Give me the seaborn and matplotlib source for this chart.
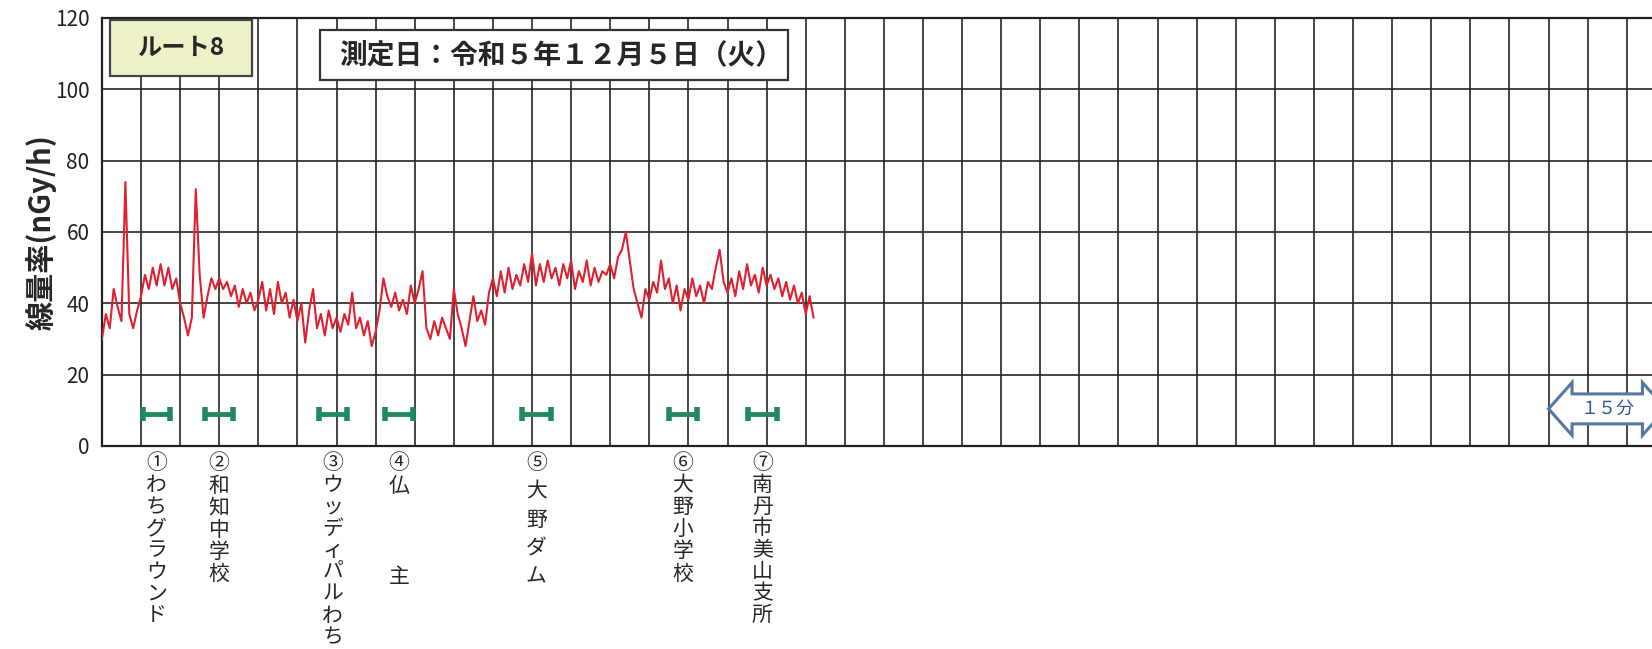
import matplotlib
matplotlib.use("Agg")
import matplotlib.pyplot as plt
import seaborn as sns
import pandas as pd
import numpy as np
from matplotlib.patches import Rectangle, Polygon

# 空間線量率 (nGy/h)、0.5分ごとに図から読み取った値
step_min = 0.5
dose_rate = [
    30,
    37, 33, 44, 39, 35, 74, 37, 33, 38, 42,
    48, 44, 50, 45, 51, 45, 50, 44, 47, 40,
    36, 31, 36, 72, 48, 36, 42, 47, 44, 47,
    44, 46, 42, 45, 39, 44, 40, 43, 38, 41,
    46, 38, 44, 37, 46, 40, 43, 36, 41, 35,
    40, 29, 38, 44, 33, 37, 31, 38, 33, 36,
    32, 37, 34, 43, 33, 36, 31, 35, 28, 32,
    38, 47, 42, 39, 43, 38, 41, 37, 45, 40,
    44, 49, 33, 30, 35, 31, 36, 33, 30, 44,
    37, 33, 28, 35, 42, 35, 38, 34, 43, 47,
    42, 49, 43, 50, 44, 48, 45, 51, 46, 54,
    45, 51, 46, 52, 47, 50, 45, 51, 47, 52,
    44, 49, 46, 52, 45, 50, 46, 49, 48, 51,
    47, 53, 55, 60, 52, 44, 40, 36, 44, 41,
    46, 43, 52, 44, 47, 40, 45, 38, 44, 41,
    47, 42, 45, 40, 46, 44, 50, 55, 46, 43,
    47, 42, 49, 44, 51, 45, 48, 43, 50, 45,
    48, 44, 47, 42, 46, 41, 45, 40, 43, 37,
    42, 36,
]

# 測定地点 (緑のバー: 開始分・終了分)
site_numbers = ["①", "②", "③", "④", "⑤", "⑥", "⑦"]
site_names = ["わちグラウンド", "和知中学校", "ウッディパルわち", "仏　　　主",
              "大野ダム", "大野小学校", "南丹市美山支所"]
site_start = [5.2, 13.2, 27.7, 36.2, 53.7, 72.5, 82.6]
site_end = [8.7, 16.8, 31.3, 39.8, 57.4, 76.1, 86.3]
site_level = 9

y_ticks = [0, 20, 40, 60, 80, 100, 120]
route_label = "ルート8"
date_label = "測定日：令和５年１２月５日（火）"
scale_label = "１５分"
scale_start, scale_len = 185, 15

df = pd.DataFrame({"minute": np.arange(len(dose_rate)) * step_min,
                   "dose": dose_rate})

sns.set_style("white")
plt.rcParams["font.family"] = ["Noto Sans CJK JP", "DejaVu Sans"]

fig = plt.figure(figsize=(16.52, 6.49), dpi=100)
ax = fig.add_axes([0.0617, 0.3128, 0.9467, 0.6595])

sns.lineplot(data=df, x="minute", y="dose", ax=ax, color="#e0202e",
             linewidth=1.5, zorder=3)

ax.set_xlim(0, 200)
ax.set_ylim(0, 120)
ax.set_xticks(np.arange(0, 201, 5))
ax.set_yticks(y_ticks)
ax.grid(True, color="#262626", linewidth=1.2)
ax.tick_params(axis="x", length=0, labelbottom=False)
ax.tick_params(axis="y", length=0, pad=9, labelsize=15, labelcolor="#222222")
for s in ax.spines.values():
    s.set_color("#222222")
    s.set_linewidth(1.6)
ax.set_xlabel("")
ax.set_ylabel("線量率(nGy/h)", fontsize=21, fontweight="bold", labelpad=-1)

# 測定地点のバー
centers = [(a + b) / 2 for a, b in zip(site_start, site_end)]
halfw = [(b - a) / 2 for a, b in zip(site_start, site_end)]
ax.errorbar(centers, [site_level] * len(centers), xerr=halfw, fmt="none",
            ecolor="#1e8a5e", elinewidth=3.5, capsize=5, capthick=4, zorder=4)

# 地点名 (縦書き)
spacing = [0.98, 1.007, 0.985, 1.04, 1.37, 1.0, 0.98]
xtr = ax.get_xaxis_transform()
for c, num, name, ls in zip(centers, site_numbers, site_names, spacing):
    chars = [ch if ch != "　" else "" for ch in name]
    ax.text(c, -0.015, "\n".join([num] + chars), transform=xtr, ha="center",
            va="top", fontsize=15, linespacing=ls, clip_on=False)

# ルート・日付の枠
ax.add_patch(Rectangle((0.0052, 0.865), 0.0905, 0.13, transform=ax.transAxes,
                       facecolor="#eef1c6", edgecolor="#444444", lw=1.6, zorder=5))
ax.text(0.0506, 0.93, route_label, transform=ax.transAxes, ha="center",
        va="center", fontsize=17.5, fontweight="bold", zorder=6)
ax.add_patch(Rectangle((0.1394, 0.855), 0.2992, 0.117, transform=ax.transAxes,
                       facecolor="white", edgecolor="#333333", lw=1.6, zorder=5))
ax.text(0.294, 0.913, date_label, transform=ax.transAxes, ha="center",
        va="center", fontsize=20, fontweight="bold", zorder=6)

# 15分スケール矢印
yc, hh, sh, hl = 10.4, 7.4, 4.2, 3.0
x0, x1 = scale_start, scale_start + scale_len
arrow = [(x0, yc), (x0 + hl, yc + hh), (x0 + hl, yc + sh), (x1 - hl, yc + sh),
         (x1 - hl, yc + hh), (x1, yc), (x1 - hl, yc - hh), (x1 - hl, yc - sh),
         (x0 + hl, yc - sh), (x0 + hl, yc - hh)]
ax.add_patch(Polygon(arrow, closed=True, facecolor="white", edgecolor="#56779f",
                     lw=2.2, zorder=5))
ax.text(x0 + scale_len / 2, yc, scale_label, ha="center", va="center",
        fontsize=13, color="#2f5597", zorder=6)

fig.savefig("out.png", dpi=100, facecolor="white")
